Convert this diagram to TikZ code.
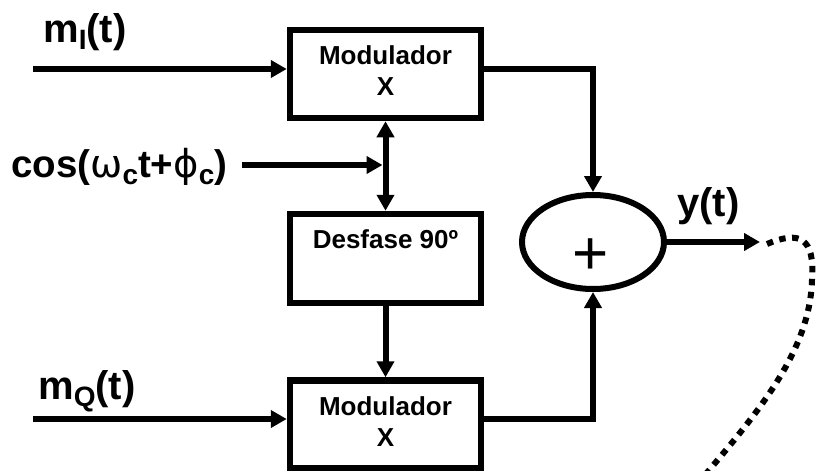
\documentclass[tikz,border=0pt]{standalone}
\usepackage{fontspec}
\setmainfont{Liberation Sans}
\newfontfamily\grfont{DejaVu Sans}
\usetikzlibrary{arrows.meta,shapes.geometric,calc}
\newcommand\lowsub[1]{\raisebox{-7pt}{\fontsize{28}{28}\selectfont #1}}
\begin{document}
\begin{tikzpicture}[x=1pt,y=-1pt,
  conn/.style={line width=6pt},
  tip/.tip={Triangle[length=16pt,width=17pt]},
  arr/.style={conn,-tip},
  blk/.style={draw,line width=6.5pt,minimum width=191pt,minimum height=88pt,inner sep=0pt},
  btxt/.style={font=\fontsize{26}{31}\selectfont\bfseries,align=center,inner sep=0pt},
  lab/.style={font=\fontsize{40}{42}\selectfont\bfseries,inner sep=0pt,anchor=base west},
  dotline/.style={line width=6pt,dash pattern=on 6.5pt off 6.5pt}]
\useasboundingbox (0,0) rectangle (817,471);
% blocks
\node[blk] (mod1) at (385.5,74) {};
\node[blk,minimum height=89pt] (desf) at (385.5,258.5) {};
\node[blk] (mod2) at (385.5,424.5) {};
\node[btxt] (t1) at (385.5,70.5) {Modulador\\X};
\node[btxt,anchor=base] (t2) at (385.5,248) {Desfase 90º};
\node[btxt] (t3) at (385.5,422) {Modulador\\X};
\node[draw,ellipse,line width=6pt,minimum width=142pt,minimum height=94pt,inner sep=0pt] (sum) at (593,242) {};
\node[font=\fontsize{62}{62}\selectfont,inner sep=0pt,anchor=base] (plus) at (591,274) {+};
% labels
\node[lab] (lI) at (43,42) {m\lowsub{I}(t)};
\node[lab,font=\fontsize{38.5}{42}\selectfont\bfseries] (lC) at (11,177) {cos({\grfont\mdseries ω}\lowsub{c}t+{\grfont\mdseries ϕ}\lowsub{c})};
\node[lab] (lQ) at (38,399) {m\lowsub{Q}(t)};
\node[lab] (ly) at (677,216) {y(t)};
% coordinates
\coordinate (inI) at (33,69);
\coordinate (inQ) at (33,419);
\coordinate (inC) at (242,165);
\coordinate (jn) at (inC -| mod1.south);
\coordinate (yout) at (760,242);
% connectors
\draw[arr] (inI) -- (inI -| mod1.west);
\draw[arr] (inQ) -- (inQ -| mod2.west);
\draw[arr,shorten >=3pt] (inC) -- (jn);
\draw[conn,tip-tip] (mod1.south) -- (desf.north);
\draw[arr] (desf.south) -- (mod2.north);
\draw[arr] (inI -| mod1.east) -| (sum.north);
\draw[arr] (inQ -| mod2.east) -| (sum.south);
\draw[arr] (sum.east) -- (yout);
\draw[dotline] (767,244) .. controls (800,230) and (815,238) .. (812,280)
  .. controls (810,350) and (760,410) .. (705,475);
\end{tikzpicture}
\end{document}
